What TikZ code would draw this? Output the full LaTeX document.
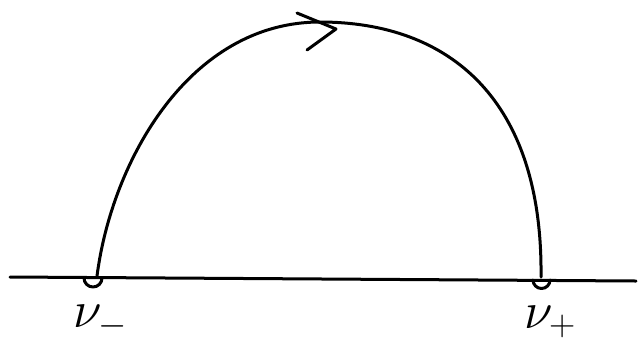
\RequirePackage{fix-cm}
\documentclass[tikz,border=0pt]{standalone}
\begin{document}
\begin{tikzpicture}[x=1pt,y=-1pt,
  ink/.style={line width=3pt,line cap=round,line join=round},
  lab/.style={inner sep=0pt,font=\fontsize{52}{56}\selectfont}]
\useasboundingbox (0,0) rectangle (639,349);
\coordinate (L) at (10,277);
\coordinate (R) at (636,281);
\coordinate (vm) at (93,278);
\coordinate (vp) at (541,280);
\coordinate (top) at (320,22);
\draw[ink] (L) -- (R);
% small half circles
\draw[ink] (84,278) arc (180:0:9);
\draw[ink] (533,280) arc (180:0:8.5);
% arc
\draw[ink] (97,276) .. controls (112,160) and (190,22) .. (top)
  .. controls (450,22) and (543,100) .. (541,277);
% arrowhead
\draw[ink] (297,13) -- (336,29) -- (307,50);
% labels
\node[lab] (lm) at (100,322) {$\nu_{-}$};
\node[lab] (lp) at (550,322) {$\nu_{+}$};
\end{tikzpicture}
\end{document}
